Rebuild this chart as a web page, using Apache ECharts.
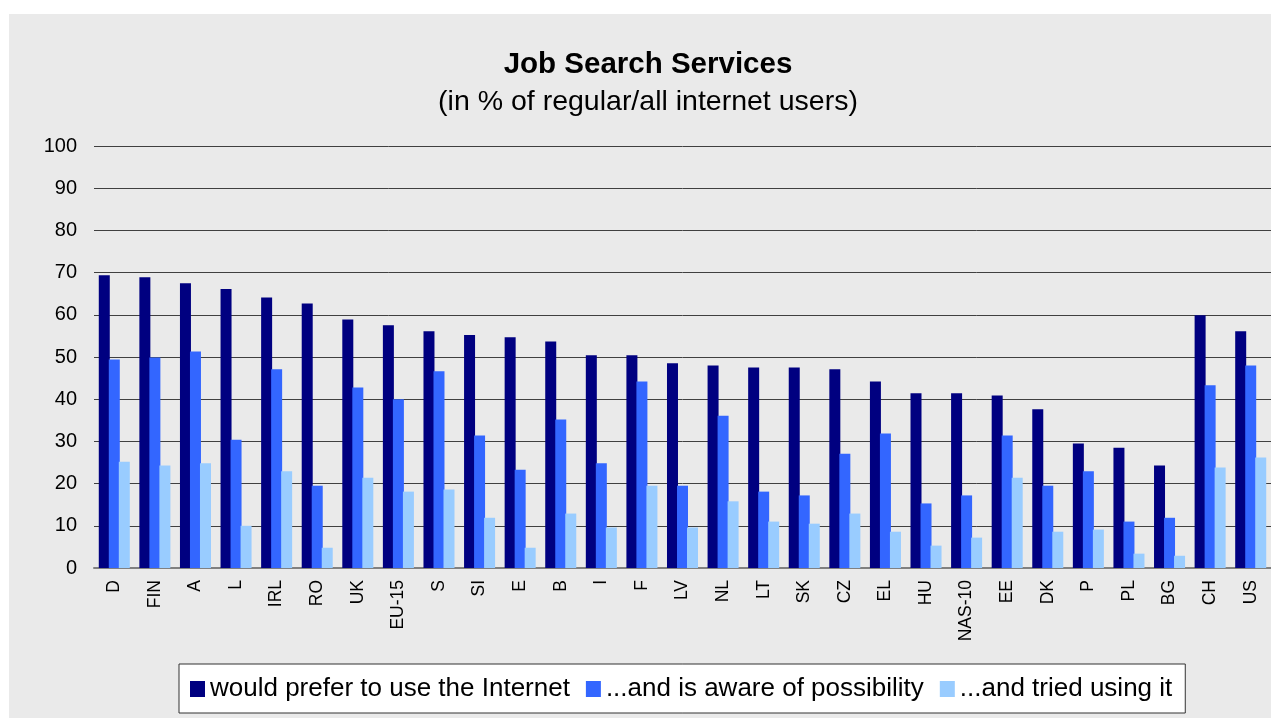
<!DOCTYPE html>
<html>
<head>
<meta charset="utf-8">
<script src="https://cdn.jsdelivr.net/npm/echarts@6/dist/echarts.min.js"></script>
<style>
  html, body { margin: 0; padding: 0; background: #ffffff; }
  #chart { position: absolute; left: 9px; top: 14px; width: 1262px; height: 704px; background: #eaeaea; }
</style>
</head>
<body>
<div id="chart"></div>
<script>
// categories (countries / groups)
const countries = ['D', 'FIN', 'A', 'L', 'IRL', 'RO', 'UK', 'EU-15', 'S', 'SI', 'E', 'B', 'I', 'F', 'LV',
    'NL', 'LT', 'SK', 'CZ', 'EL', 'HU', 'NAS-10', 'EE', 'DK', 'P', 'PL', 'BG', 'CH', 'US'];

// series values, % of regular/all internet users
const preferInternet = [69.4, 68.9, 67.5, 66.1, 64.1, 62.7, 58.9, 57.5, 56.1, 55.2, 54.7, 53.7, 50.4, 50.4, 48.5,
    48.0, 47.5, 47.5, 47.1, 44.2, 41.4, 41.4, 40.9, 37.6, 29.5, 28.5, 24.3, 59.9, 56.1];
const awareOfPossibility = [49.4, 49.9, 51.3, 30.4, 47.1, 19.5, 42.8, 40.0, 46.6, 31.4, 23.3, 35.2, 24.8, 44.2, 19.5,
    36.1, 18.1, 17.2, 27.1, 31.9, 15.3, 17.2, 31.4, 19.5, 22.9, 11.0, 11.9, 43.3, 48.0];
const triedUsing = [25.2, 24.3, 24.8, 10.0, 22.9, 4.8, 21.4, 18.1, 18.6, 11.9, 4.8, 12.9, 9.6, 19.5, 9.6,
    15.8, 11.0, 10.5, 12.9, 8.6, 5.3, 7.2, 21.4, 8.6, 9.1, 3.4, 2.9, 23.8, 26.2];

const seriesNames = ['would prefer to use the Internet', '...and is aware of possibility', '...and tried using it'];
const seriesColors = ['#000080', '#3366ff', '#99ccff'];

const FONT = '"Liberation Sans", Arial, sans-serif';

const chart = echarts.init(document.getElementById('chart'));

const makeBar = (name, data, color) => ({
    name,
    type: 'bar',
    data,
    barWidth: 11,
    barGap: '-9%',
    itemStyle: { color },
    emphasis: { disabled: true },
});

chart.setOption({
    backgroundColor: '#eaeaea',
    animation: false,
    textStyle: { fontFamily: FONT },
    title: [
        {
            text: 'Job Search Services',
            left: 634,
            textAlign: 'center',
            top: 31,
            textStyle: { fontFamily: FONT, fontSize: 29.5, fontWeight: 'bold', color: '#000' },
        },
        {
            text: '(in % of regular/all internet users)',
            left: 634,
            textAlign: 'center',
            top: 69,
            textStyle: { fontFamily: FONT, fontSize: 28.5, fontWeight: 'normal', color: '#000' },
        },
    ],
    legend: {
        data: seriesNames,
        left: 170,
        top: 650,
        orient: 'horizontal',
        backgroundColor: '#ffffff',
        borderColor: '#333333',
        borderWidth: 1,
        padding: [12, 13, 11, 11],
        itemWidth: 15,
        itemHeight: 16,
        itemGap: 16,
        icon: 'rect',
        textStyle: { fontFamily: FONT, fontSize: 26, color: '#000' },
    },
    grid: {
        left: 85,
        right: 0,
        top: 132,
        bottom: 150,
        containLabel: false,
    },
    xAxis: {
        type: 'category',
        data: countries,
        boundaryGap: true,
        axisLine: { show: true, lineStyle: { color: '#808080', width: 2 } },
        axisTick: { show: false },
        axisLabel: {
            rotate: 90,
            interval: 0,
            margin: 12,
            color: '#000',
            fontFamily: FONT,
            fontSize: 17.5,
        },
    },
    yAxis: {
        type: 'value',
        min: 0,
        max: 100,
        interval: 10,
        axisLine: { show: false },
        axisTick: { show: false },
        axisLabel: { color: '#000', fontFamily: FONT, fontSize: 20, margin: 17 },
        splitLine: { lineStyle: { color: '#404040', width: 1 } },
    },
    series: [
        makeBar(seriesNames[0], preferInternet, seriesColors[0]),
        makeBar(seriesNames[1], awareOfPossibility, seriesColors[1]),
        makeBar(seriesNames[2], triedUsing, seriesColors[2]),
    ],
});
</script>
</body>
</html>
